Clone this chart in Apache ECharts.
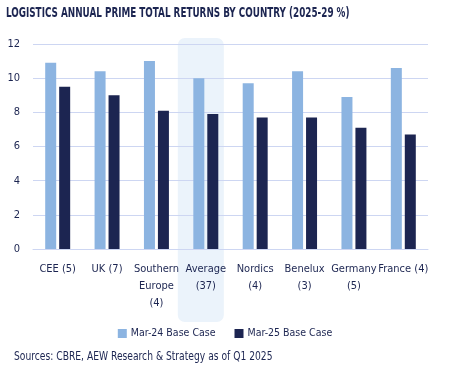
<!DOCTYPE html>
<html>
<head>
<meta charset="utf-8">
<script src="https://cdn.jsdelivr.net/npm/echarts@6/dist/echarts.min.js"></script>
<style>
  html, body { margin: 0; padding: 0; background: #fff; }
  #chart { width: 450px; height: 376px; }
</style>
</head>
<body>
<div id="chart"></div>
<script>
// logistics prime total returns, 2025-29
const countries = ['CEE (5)', 'UK (7)', 'Southern\nEurope\n(4)', 'Average\n(37)', 'Nordics\n(4)', 'Benelux\n(3)', 'Germany\n(5)', 'France (4)'];
const mar24 = [10.9, 10.4, 11.0, 10.0, 9.7, 10.4, 8.9, 10.6];
const mar25 = [9.5, 9.0, 8.1, 7.9, 7.7, 7.7, 7.1, 6.7];
const seriesNames = ['Mar-24 Base Case', 'Mar-25 Base Case'];
const yTicks = [0, 2, 4, 6, 8, 10, 12];

const font = '"DejaVu Sans Condensed", "Liberation Sans Narrow", sans-serif';
const navy = '#1c2551';
const lightBlue = '#8cb4e1';

const chart = echarts.init(document.getElementById('chart'));
const option = {
  animation: false,
  textStyle: { fontFamily: font },
  grid: { left: 33, right: 22, top: 44, bottom: 127 },
  legend: {
    top: 323,
    left: 'center',
    itemWidth: 9,
    itemHeight: 9,
    itemGap: 19,
    icon: 'rect',
    textStyle: { color: navy, fontSize: 10.5, fontFamily: font, padding: [0, 0, 0, -1] },
    data: seriesNames
  },
  xAxis: {
    type: 'category',
    data: countries,
    axisLine: { lineStyle: { color: '#cdd6f2' } },
    axisTick: { show: false },
    axisLabel: {
      interval: 0,
      margin: 12,
      color: navy,
      fontSize: 11,
      lineHeight: 17,
      fontFamily: font
    }
  },
  yAxis: {
    type: 'value',
    min: yTicks[0],
    max: yTicks[yTicks.length - 1],
    interval: 2,
    axisLine: { show: false },
    axisTick: { show: false },
    splitLine: { lineStyle: { color: '#cdd6f2' } },
    axisLabel: { margin: 13, color: navy, fontSize: 11, fontFamily: font }
  },
  series: [{
    name: seriesNames[0],
    type: 'bar',
    data: mar24,
    barWidth: 11,
    barGap: '27%',
    itemStyle: { color: lightBlue }
  }, {
    name: seriesNames[1],
    type: 'bar',
    data: mar25,
    barWidth: 11,
    itemStyle: { color: navy }
  }]
};
chart.setOption(option);

// highlight behind the average column + title/source text
const cx = chart.convertToPixel({ xAxisIndex: 0 }, countries[3]);
const yTop = chart.convertToPixel({ yAxisIndex: 0 }, yTicks[yTicks.length - 1]);
const yBottom = chart.convertToPixel({ yAxisIndex: 0 }, 0);
chart.setOption({
  graphic: [{
    type: 'rect',
    z: -1,
    shape: { x: cx - 28, y: yTop - 6, width: 46, height: yBottom - yTop + 79, r: 7 },
    style: { fill: '#ebf3fb' },
    silent: true
  }, {
    type: 'text',
    x: 6,
    y: 6,
    scaleX: 0.70,
    style: {
      text: 'LOGISTICS ANNUAL PRIME TOTAL RETURNS BY COUNTRY (2025-29 %)',
      fill: navy,
      font: 'bold 14px ' + font,
      verticalAlign: 'top'
    }
  }, {
    type: 'text',
    x: 14,
    y: 350,
    scaleX: 0.784,
    style: {
      text: 'Sources: CBRE, AEW Research & Strategy as of Q1 2025',
      fill: navy,
      font: '13px ' + font,
      verticalAlign: 'top'
    }
  }]
});
</script>
</body>
</html>
